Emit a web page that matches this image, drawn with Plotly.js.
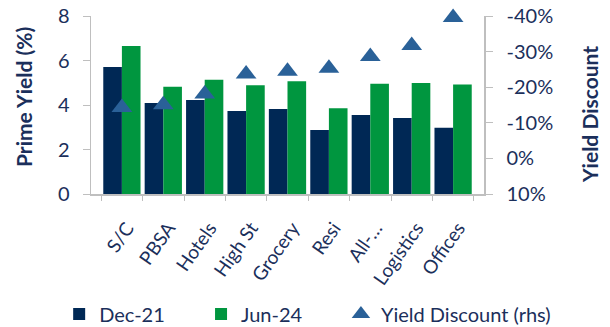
<!DOCTYPE html>
<html>
<head>
<meta charset="utf-8">
<script src="https://cdn.plot.ly/plotly-3.0.1.min.js"></script>
<style>html,body{margin:0;padding:0;background:#fff}#chart{width:610px;height:327px}</style>
</head>
<body>
<div id="chart"></div>
<script>
const categories = ["S/C", "PBSA", "Hotels", "High St", "Grocery", "Resi", "All-\u2026", "Logistics", "Offices"];
const dec21 = [5.71, 4.09, 4.22, 3.73, 3.82, 2.88, 3.55, 3.42, 2.98];
const jun24 = [6.65, 4.82, 5.14, 4.89, 5.07, 3.85, 4.96, 4.99, 4.92];
const yieldDiscount = [-14.3, -15.1, -18.1, -23.7, -24.5, -25.3, -28.6, -31.7, -39.6];
const leftTicks = [0, 2, 4, 6, 8];
const rightTicks = [-40, -30, -20, -10, 0, 10];
const rightTickText = ["-40%", "-30%", "-20%", "-10%", "0%", "10%"];
const leftTitle = "Prime Yield (%)";
const rightTitle = "Yield Discount";

const navy = "#002855";
const green = "#00963F";
const triBlue = "#2A6198";
const textCol = "#1B2F5B";
const axisCol = "#BFBFBF";
const font = "Lato, 'Open Sans', sans-serif";

const traces = [
  {type: "bar", name: "Dec-21", x: categories, y: dec21, marker: {color: navy, line: {width: 0}}, legend: "legend"},
  {type: "bar", name: "Jun-24", x: categories, y: jun24, marker: {color: green, line: {width: 0}}, legend: "legend2"},
  {type: "scatter", mode: "markers", name: "Yield Discount (rhs)", x: categories, y: yieldDiscount, yaxis: "y2",
   cliponaxis: false, marker: {symbol: "triangle-up", size: 18, color: triBlue}, legend: "legend3"}
];

const legBase = {orientation: "h", xanchor: "left", y: -0.674, yanchor: "middle",
                 font: {size: 20, color: textCol}, bgcolor: "rgba(0,0,0,0)"};

const layout = {
  width: 610, height: 327,
  margin: {l: 91, r: 126, t: 16, b: 133, autoexpand: false},
  paper_bgcolor: "#fff", plot_bgcolor: "#fff",
  font: {family: font, color: textCol, size: 17},
  barmode: "group", bargap: 0.1, bargroupgap: 0,
  showlegend: true,
  legend: Object.assign({}, legBase, {x: -0.081}),
  legend2: Object.assign({}, legBase, {x: 0.280}),
  legend3: Object.assign({}, legBase, {x: 0.636}),
  xaxis: {type: "category", tickangle: -55, ticks: "outside", tickson: "boundaries", ticklen: 5,
          tickcolor: axisCol, showline: true, linecolor: axisCol, linewidth: 1.5, showgrid: false,
          automargin: false, ticklabelstandoff: 14, ticklabelshift: 5,
          tickfont: {size: 19, color: textCol}},
  yaxis: {range: [0, 8], tickvals: leftTicks, ticks: "outside", ticklen: 7, tickcolor: axisCol,
          showline: true, linecolor: axisCol, linewidth: 1.5, showgrid: false, zeroline: false,
          automargin: false, ticklabelstandoff: 9, tickfont: {size: 20, color: textCol}},
  yaxis2: {overlaying: "y", side: "right", range: [10, -40], tickvals: rightTicks, ticktext: rightTickText,
           ticks: "outside", ticklen: 7, tickcolor: axisCol, showline: true, linecolor: axisCol, linewidth: 1.5,
           showgrid: false, zeroline: false, automargin: false, ticklabelstandoff: 10,
           tickfont: {size: 20, color: textCol}},
  annotations: [
    {text: "<b>" + leftTitle + "</b>", xref: "paper", yref: "paper", x: -0.1705, y: 0.545,
     xanchor: "center", yanchor: "middle", textangle: -90, showarrow: false, font: {size: 21, color: textCol}},
    {text: "<b>" + rightTitle + "</b>", xref: "paper", yref: "paper", x: 1.267, y: 0.449,
     xanchor: "center", yanchor: "middle", textangle: -90, showarrow: false, font: {size: 21, color: textCol}}
  ]
};

Plotly.newPlot("chart", traces, layout, {displayModeBar: false, staticPlot: true});
</script>
</body>
</html>
